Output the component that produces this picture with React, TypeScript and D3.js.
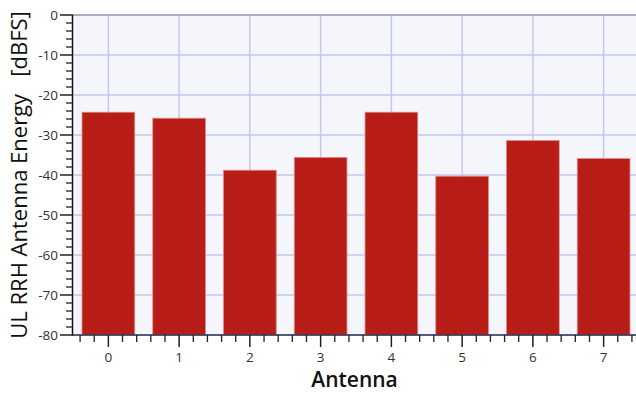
import React from "react";
import * as d3 from "d3";

const antennas = [0, 1, 2, 3, 4, 5, 6, 7];
const energy = [-24.3, -25.8, -38.8, -35.6, -24.3, -40.3, -31.4, -35.9];
const yTicks = [0, -10, -20, -30, -40, -50, -60, -70, -80];

const W = 636;
const H = 393;
const m = { left: 73, right: 639, top: 15, bottom: 335 };
const FONT = "'Open Sans', 'Noto Sans', sans-serif";

export default function App() {
  const x = d3.scaleLinear().domain([-0.5, 7.5]).range([m.left, m.right]);
  const y = d3.scaleLinear().domain([-80, 0]).range([m.bottom, m.top]);
  const step = x(1) - x(0);
  const barW = step * 0.745;

  const yMinor = d3.range(-80, 0.001, 2).filter((v) => v % 10 !== 0);
  const xMinor = d3
    .range(-0.4, 7.5, 0.2)
    .map((v) => Math.round(v * 10) / 10)
    .filter((v) => Math.abs(v - Math.round(v)) > 1e-6);

  return (
    <svg
      width={W}
      height={H}
      style={{ position: "absolute", left: 0, top: 0, background: "#fff" }}
      fontFamily={FONT}
    >
      <rect x={m.left} y={m.top} width={m.right - m.left} height={m.bottom - m.top} fill="#F4F6FB" />
      {yTicks.map((t) => (
        <line key={"gy" + t} x1={m.left} x2={m.right} y1={y(t)} y2={y(t)} stroke="#C4C6F0" strokeWidth={1.5} />
      ))}
      {antennas.map((a) => (
        <line key={"gx" + a} x1={x(a)} x2={x(a)} y1={m.top} y2={m.bottom} stroke="#C4C6F0" strokeWidth={1.5} />
      ))}
      <line x1={m.left} x2={m.right} y1={m.top} y2={m.top} stroke="#98A2B8" strokeWidth={1.5} />
      {antennas.map((a, i) => (
        <rect
          key={"b" + a}
          x={x(a) - barW / 2}
          y={y(energy[i])}
          width={barW}
          height={y(-80) - y(energy[i])}
          fill="#B91D18"
          stroke="#E08A86"
          strokeWidth={0.8}
        />
      ))}
      {/* y axis */}
      <line x1={m.left - 0.5} x2={m.left - 0.5} y1={m.top} y2={m.bottom + 1} stroke="#111" strokeWidth={1.5} />
      {yTicks.map((t) => (
        <g key={"yt" + t}>
          <line x1={m.left - 13} x2={m.left} y1={y(t)} y2={y(t)} stroke="#222" strokeWidth={1.5} />
          <text x={m.left - 15} y={y(t)} dy="0.35em" textAnchor="end" fontSize={13.5} fill="#333">
            {t}
          </text>
        </g>
      ))}
      {yMinor.map((t) => (
        <line key={"ym" + t} x1={m.left - 7} x2={m.left} y1={y(t)} y2={y(t)} stroke="#222" strokeWidth={1.3} />
      ))}
      {/* x axis */}
      <line x1={m.left - 1} x2={m.right} y1={m.bottom} y2={m.bottom} stroke="#2A3550" strokeWidth={1.5} />
      {antennas.map((a) => (
        <g key={"xt" + a}>
          <line x1={x(a)} x2={x(a)} y1={m.bottom} y2={m.bottom + 12} stroke="#222" strokeWidth={1.5} />
          <text x={x(a)} y={m.bottom + 27} textAnchor="middle" fontSize={13.5} fill="#333">
            {a}
          </text>
        </g>
      ))}
      {xMinor.map((v) => (
        <line key={"xm" + v} x1={x(v)} x2={x(v)} y1={m.bottom} y2={m.bottom + 7} stroke="#222" strokeWidth={1.3} />
      ))}
      <text
        x={(m.left + 636) / 2}
        y={387}
        textAnchor="middle"
        fontSize={21}
        fontWeight={600}
        fill="#111"
      >
        Antenna
      </text>
      <text
        transform={`translate(27, ${(m.top + m.bottom) / 2}) rotate(-90)`}
        textAnchor="middle"
        fontSize={22}
        fill="#111"
        style={{ whiteSpace: "pre" }}
      >
        {"UL RRH Antenna Energy   [dBFS]"}
      </text>
    </svg>
  );
}
